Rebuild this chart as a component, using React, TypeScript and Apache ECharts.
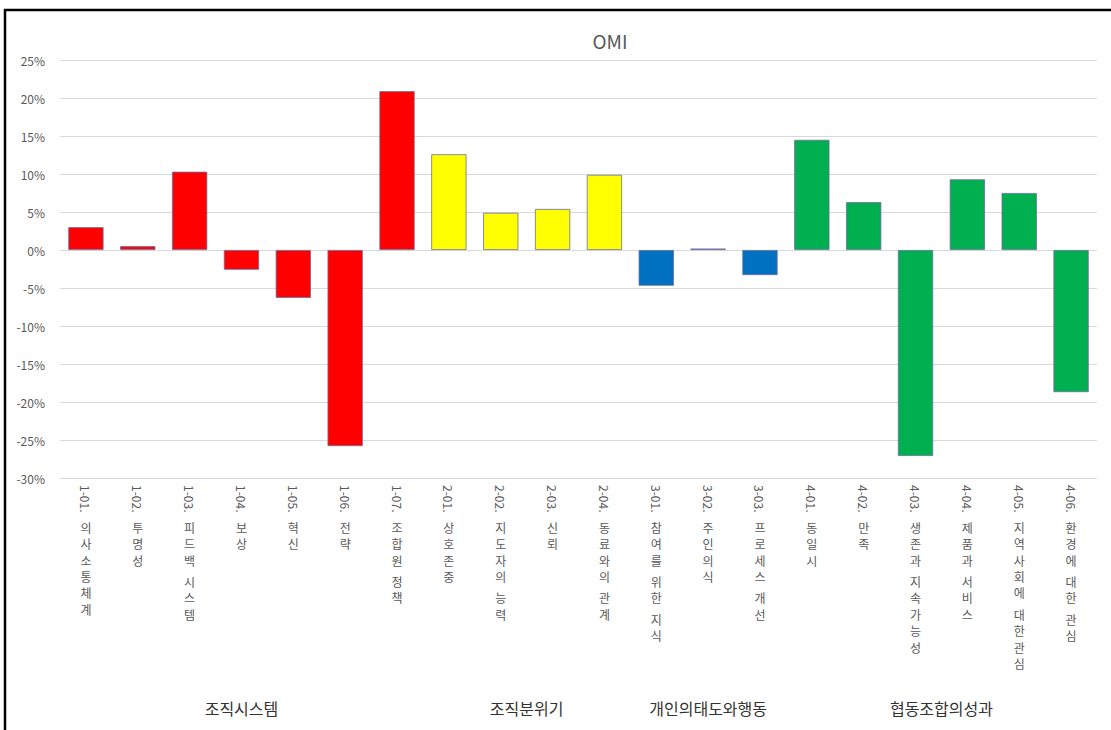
import React, { useEffect, useRef } from "react";
import * as echarts from "echarts";

const categories = [
  "1-01. 의사소통체계",
  "1-02. 투명성",
  "1-03. 피드백 시스템",
  "1-04. 보상",
  "1-05. 혁신",
  "1-06. 전략",
  "1-07. 조합원 정책",
  "2-01. 상호존중",
  "2-02. 지도자의 능력",
  "2-03. 신뢰",
  "2-04. 동료와의 관계",
  "3-01. 참여를 위한 지식",
  "3-02. 주인의식",
  "3-03. 프로세스 개선",
  "4-01. 동일시",
  "4-02. 만족",
  "4-03. 생존과 지속가능성",
  "4-04. 제품과 서비스",
  "4-05. 지역사회에 대한관심",
  "4-06. 환경에 대한 관심",
];

const values = [
  3.0, 0.5, 10.3, -2.6, -6.3, -25.8, 20.9, 12.6, 4.9, 5.4, 9.9, -4.7, 0.2, -3.3,
  14.5, 6.3, -27.1, 9.3, 7.5, -18.7,
];

const groupNames = ["조직시스템", "조직분위기", "개인의태도와행동", "협동조합의성과"];
const groupSizes = [7, 4, 3, 6];
const groupColors = ["#FF0000", "#FFFF00", "#0070C0", "#00B050"];

const yTicks = { min: -30, max: 25, interval: 5 };

const FONT = "'Noto Sans CJK KR', 'Noto Sans', sans-serif";

export default function App() {
  const ref = useRef<HTMLDivElement>(null);

  useEffect(() => {
    if (!ref.current) return;
    const chart = echarts.init(ref.current, null, { renderer: "svg" });

    const colorOf: string[] = [];
    groupSizes.forEach((n, g) => {
      for (let i = 0; i < n; i++) colorOf.push(groupColors[g]);
    });

    const option: any = {
      animation: false,
      backgroundColor: "#ffffff",
      textStyle: { fontFamily: FONT },
      title: {
        text: "OMI",
        left: 605,
        top: 26,
        textAlign: "center",
        textStyle: { fontSize: 19, fontWeight: "normal", color: "#595959", fontFamily: FONT },
      },
      grid: { left: 60, right: 14, top: 60, bottom: 252, containLabel: false },
      xAxis: [
        {
          type: "category",
          data: categories,
          position: "bottom",
          axisLine: { show: false },
          axisTick: { show: false },
          axisLabel: {
            interval: 0,
            rotate: -90,
            margin: 7,
            fontSize: 12,
            color: "#595959",
            fontFamily: FONT,
            formatter: (v: string) => v.split(" ")[0],
          },
        },
        {
          type: "category",
          data: categories,
          position: "bottom",
          axisLine: { show: false },
          axisTick: { show: false },
          splitLine: { show: false },
          axisLabel: {
            interval: 0,
            margin: 41,
            color: "#595959",
            fontFamily: FONT,
            formatter: (v: string) => {
              const rest = v.slice(v.indexOf(" ") + 1);
              return rest
                .split("")
                .map((ch) => (ch === " " ? "{s| }" : `{c|${ch}}`))
                .join("\n");
            },
            rich: {
              c: { fontSize: 12, lineHeight: 16.4, color: "#595959", fontFamily: FONT },
              s: { fontSize: 4, lineHeight: 5, color: "#595959" },
            },
          },
        },
      ],
      yAxis: {
        type: "value",
        min: yTicks.min,
        max: yTicks.max,
        interval: yTicks.interval,
        axisLine: { show: false },
        axisTick: { show: false },
        axisLabel: {
          margin: 15,
          fontSize: 12,
          color: "#595959",
          fontFamily: FONT,
          formatter: (v: number) => `${Math.round(v)}%`,
        },
        splitLine: { lineStyle: { color: "#d9d9d9", width: 1 } },
      },
      series: [
        {
          type: "bar",
          xAxisIndex: 0,
          barCategoryGap: "32%",
          data: values.map((v, i) => ({
            value: v,
            itemStyle: {
              color: colorOf[i],
              borderColor: "#6b6f9e",
              borderWidth: 0.8,
            },
          })),
        },
      ],
    };

    chart.setOption(option);

    const graphics: any[] = [
      {
        type: "rect",
        id: "frame",
        shape: { x: 5, y: 10, width: 1200, height: 800 },
        style: { fill: "none", stroke: "#000000", lineWidth: 2.5 },
        silent: true,
        z: 100,
      },
    ];
    let start = 0;
    groupSizes.forEach((n, g) => {
      const a = chart.convertToPixel({ xAxisIndex: 0 }, categories[start]) as number;
      const b = chart.convertToPixel({ xAxisIndex: 0 }, categories[start + n - 1]) as number;
      graphics.push({
        type: "text",
        id: "group" + g,
        x: (a + b) / 2,
        y: 708,
        style: {
          text: groupNames[g],
          fill: "#333333",
          font: `16px ${FONT}`,
          textAlign: "center",
          textVerticalAlign: "middle",
        },
      });
      start += n;
    });
    chart.setOption({ graphic: graphics });

    return () => chart.dispose();
  }, []);

  return (
    <div
      ref={ref}
      style={{ position: "fixed", left: 0, top: 0, width: 1111, height: 730 }}
    />
  );
}
